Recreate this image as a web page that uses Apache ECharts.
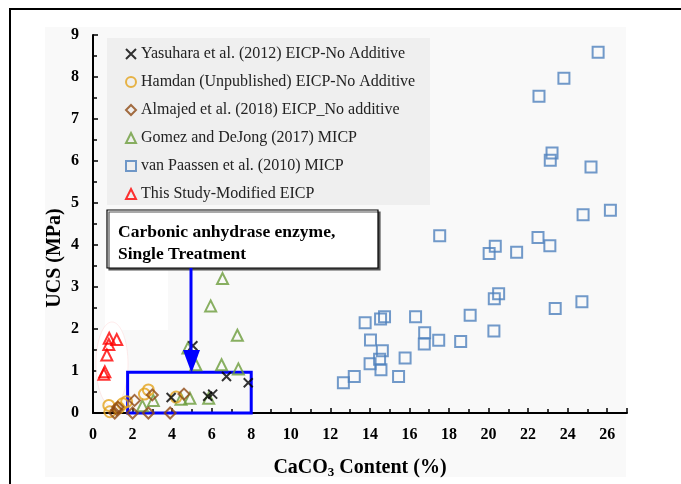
<!DOCTYPE html>
<html>
	<head>
		<meta charset="utf-8">
		<title>UCS vs CaCO3</title>
	</head>
	<body style="margin:0;background:#fff;">
		<!-- chart area -->
		<div id="container" style="width: 681px;height:484px;"></div>
	</body>
	<script src="https://cdn.jsdelivr.net/npm/echarts@6/dist/echarts.min.js"></script>
	<script type="text/javascript">
		'use strict'
		// ---- data: [CaCO3 %, UCS MPa] ----
		var yasuhara = [[3.95, 0.37], [5.8, 0.4], [6.05, 0.45], [6.75, 0.87], [7.85, 0.72], [5.05, 1.6]];
		var hamdan = [[0.8, 0.18], [0.85, 0.03], [1.3, 0.12], [1.5, 0.22], [1.7, 0.27], [2.6, 0.45], [2.8, 0.55], [4.2, 0.38]];
		var almajed = [[1.1, 0.0], [1.2, 0.08], [1.25, 0.14], [2.0, 0.0], [2.1, 0.3], [2.8, 0.0], [3.0, 0.43], [3.9, 0.0], [4.6, 0.45]];
		var gomez = [[2.5, 0.17], [3.05, 0.3], [4.45, 0.33], [4.9, 0.35], [5.85, 0.35], [4.8, 1.55], [5.2, 1.15],
			[6.5, 1.15], [7.35, 1.05], [7.3, 1.85], [5.95, 2.55], [6.55, 3.2]];
		var vanPaassen = [[12.66, 0.72], [13.21, 0.87], [14.01, 1.17], [14.03, 1.74], [13.76, 2.15], [14.54, 2.24],
			[14.74, 2.29], [14.56, 1.03], [14.49, 1.28], [14.63, 1.48], [15.45, 0.87], [15.78, 1.31], [16.31, 2.29],
			[16.77, 1.91], [16.75, 1.64], [17.48, 1.73], [18.59, 1.7], [19.07, 2.33], [17.53, 4.22], [20.03, 3.8],
			[20.34, 3.97], [20.27, 1.95], [20.29, 2.72], [20.51, 2.84], [21.42, 3.83], [22.5, 4.18], [23.1, 3.98],
			[23.37, 2.49], [24.72, 2.65], [24.78, 4.72], [26.16, 4.83], [25.18, 5.86], [23.12, 6.02], [23.21, 6.19],
			[22.55, 7.54], [23.81, 7.97], [25.54, 8.59]];
		var thisStudy = [[0.55, 0.92], [0.6, 0.98], [0.7, 1.38], [0.8, 1.63], [0.82, 1.78], [1.2, 1.75]];
		// highlighted region (x from, x to, y from, y to)
		var singleTreatment = [1.75, 8, 0, 0.97];

		var seriesNames = [
			'Yasuhara et al. (2012) EICP-No Additive',
			'Hamdan (Unpublished) EICP-No Additive',
			'Almajed et al. (2018) EICP_No additive',
			'Gomez and DeJong (2017) MICP',
			'van Paassen et al. (2010) MICP',
			'This Study-Modified EICP'
		];

		var serif = 'Liberation Serif';
		var cross = 'path://M0,0L10,10M10,0L0,10';

		// hollow marker style
		function hollow(c) {
			return { color: 'transparent', borderColor: c, borderWidth: 2 };
		}

		var myCharts = echarts.init(document.getElementById('container'));
		var option = {
			animation: false,
			backgroundColor: '#fff',
			grid: {
				show: true,
				left: 93,
				right: 54,
				top: 35,
				bottom: 71,
				borderColor: '#000',
				borderWidth: 1.5
			},
			legend: {
				orient: 'vertical',
				left: 125,
				top: 45,
				padding: 0,
				itemWidth: 10,
				itemHeight: 10,
				itemGap: 10,
				textStyle: { fontFamily: serif, fontSize: 16, color: '#222', lineHeight: 18 },
				data: seriesNames
			},
			xAxis: {
				type: 'value',
				min: 0,
				max: 27,
				interval: 2,
				name: '{n|CaCO}{s|3}{n| Content (%)}',
				nameLocation: 'middle',
				nameGap: 44,
				nameTextStyle: {
					rich: {
						n: { fontFamily: serif, fontWeight: 'bold', fontSize: 20, color: '#000' },
						s: { fontFamily: serif, fontWeight: 'bold', fontSize: 13, color: '#000', padding: [9, 0, 0, 0] }
					}
				},
				axisLine: { onZero: false, lineStyle: { color: '#000', width: 2 } },
				axisTick: { inside: true, length: 5, lineStyle: { color: '#000', width: 1.5 } },
				minorTick: { show: true, splitNumber: 2, length: 4, lineStyle: { color: '#000', width: 1.5 } },
				splitLine: { show: false },
				axisLabel: { showMaxLabel: false, margin: 14, fontFamily: serif, fontWeight: 'bold', fontSize: 16, color: '#000' }
			},
			yAxis: {
				type: 'value',
				min: 0,
				max: 9,
				interval: 1,
				axisLine: { show: true, onZero: false, lineStyle: { color: '#000', width: 2 } },
				axisTick: { inside: true, length: 5, lineStyle: { color: '#000', width: 1.5 } },
				minorTick: { show: true, splitNumber: 2, length: 4, lineStyle: { color: '#000', width: 1.5 } },
				splitLine: { show: false },
				axisLabel: { margin: 14, fontFamily: serif, fontWeight: 'bold', fontSize: 16, color: '#000' }
			},
			graphic: [
				// outer picture frame and light plot panel
				{ type: 'rect', z: 0, shape: { x: 10, y: 9, width: 700, height: 500 },
					style: { fill: '#fff', stroke: '#000', lineWidth: 2 } },
				{ type: 'rect', z: 0, shape: { x: 45, y: 27, width: 581, height: 450 }, style: { fill: '#f9f9f9' } },
				// white patches behind the plot
				{ type: 'rect', z: 1, shape: { x: 105, y: 268, width: 63, height: 62 }, style: { fill: '#fff' } },
				{ type: 'ellipse', z: 1, shape: { cx: 112, cy: 364, rx: 16, ry: 42 },
					style: { fill: '#fff', stroke: 'rgba(255,150,150,0.18)', lineWidth: 1 } },
				// legend background
				{ type: 'rect', z: 1, shape: { x: 107, y: 38, width: 323, height: 167 }, style: { fill: '#efefef' } },
				// y axis title
				{ type: 'text', z: 5, x: 55, y: 258, rotation: Math.PI / 2,
					style: { text: 'UCS (MPa)', align: 'center', verticalAlign: 'middle',
						font: 'bold 20px "Liberation Serif"', fill: '#000' } },
				// annotation box
				{ type: 'rect', z: 20, shape: { x: 107, y: 210, width: 271, height: 58 },
					style: { fill: '#fff', stroke: '#000', lineWidth: 1.2, shadowColor: '#555', shadowOffsetX: 2, shadowOffsetY: 2 } },
				{ type: 'text', z: 21, x: 118, y: 243,
					style: { text: 'Carbonic anhydrase enzyme,\nSingle Treatment', verticalAlign: 'middle',
						font: 'bold 17.5px "Liberation Serif"', lineHeight: 22, fill: '#000' } },
				// arrow
				{ type: 'line', z: 20, shape: { x1: 191, y1: 268, x2: 191, y2: 352 }, style: { stroke: '#0000ff', lineWidth: 3 } },
				{ type: 'polygon', z: 20, shape: { points: [[183, 350], [200, 350], [191.5, 373]] }, style: { fill: '#0000ff' } }
			],
			series: [
				{
					name: seriesNames[4], type: 'scatter', symbol: 'rect', symbolSize: 11,
					itemStyle: hollow('#4f81bd'), data: vanPaassen
				},
				{
					name: seriesNames[3], type: 'scatter', symbol: 'triangle', symbolSize: 11,
					itemStyle: hollow('#6b9c3b'), data: gomez
				},
				{
					name: seriesNames[1], type: 'scatter', symbol: 'circle', symbolSize: 11,
					itemStyle: hollow('#e3a21a'), data: hamdan
				},
				{
					name: seriesNames[2], type: 'scatter', symbol: 'diamond', symbolSize: 11,
					itemStyle: hollow('#8e4a14'), data: almajed
				},
				{
					name: seriesNames[0], type: 'scatter', symbol: cross, symbolSize: 9,
					itemStyle: { color: '#000', borderColor: '#000', borderWidth: 2 }, data: yasuhara,
					markArea: {
						silent: true,
						itemStyle: { color: 'transparent', borderColor: '#0000ff', borderWidth: 3 },
						data: [[{ coord: [singleTreatment[0], singleTreatment[2]] }, { coord: [singleTreatment[1], singleTreatment[3]] }]]
					}
				},
				{
					name: seriesNames[5], type: 'scatter', symbol: 'triangle', symbolSize: 11,
					itemStyle: hollow('#ff0000'), data: thisStudy
				}
			]
		};
		myCharts.setOption(option);
	</script>
</html>
